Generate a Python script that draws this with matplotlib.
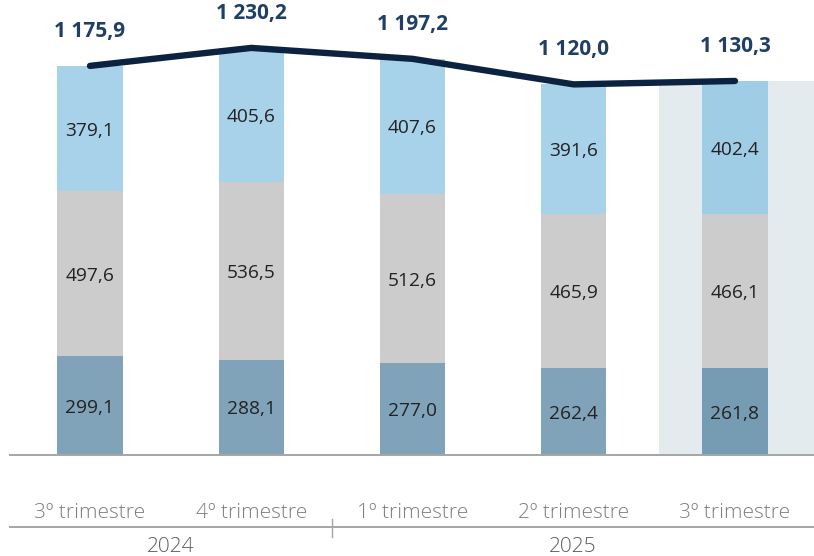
import matplotlib

matplotlib.use("Agg")
import matplotlib.pyplot as plt
import numpy as np

# data
quarters = ["3º trimestre", "4º trimestre", "1º trimestre", "2º trimestre", "3º trimestre"]
years = ["2024", "2025"]
bottom_vals = [299.1, 288.1, 277.0, 262.4, 261.8]
middle_vals = [497.6, 536.5, 512.6, 465.9, 466.1]
top_vals = [379.1, 405.6, 407.6, 391.6, 402.4]
totals = [1175.9, 1230.2, 1197.2, 1120.0, 1130.3]

plt.rcParams["font.family"] = ["Open Sans", "DejaVu Sans"]

C_BOTTOM = "#80a3ba"
C_BOTTOM_HL = "#769cb3"
C_MIDDLE = "#cccccc"
C_TOP = "#a8d2ea"
C_TOP_HL = "#a0cde6"
C_LINE = "#0b2340"
C_TOTAL = "#1f3f66"
C_AXIS = "#a6a6a6"
C_TICK = "#7e7e7e"

fig = plt.figure(figsize=(8.14, 5.56), dpi=100)
ax = fig.add_axes([10 / 814, 101 / 556, 804 / 814, 455 / 556])

x = np.arange(len(quarters))
width = 0.405
hl = len(quarters) - 1

# highlight band behind the latest quarter
ax.axvspan(3.53, 4.6, ymin=0, ymax=totals[hl] / 1375, color="#e3ebef", zorder=0, lw=0)

bottom_colors = [C_BOTTOM_HL if i == hl else C_BOTTOM for i in x]
top_colors = [C_TOP_HL if i == hl else C_TOP for i in x]
ax.bar(x, bottom_vals, width, color=bottom_colors, zorder=2)
ax.bar(x, middle_vals, width, bottom=bottom_vals, color=C_MIDDLE, zorder=2)
base_top = np.add(bottom_vals, middle_vals)
ax.bar(x, top_vals, width, bottom=base_top, color=top_colors, zorder=2)


def fmt(v):
    return f"{v:,.1f}".replace(",", " ").replace(".", ",")


for i in x:
    for val, mid in [(bottom_vals[i], bottom_vals[i] / 2),
                     (middle_vals[i], bottom_vals[i] + middle_vals[i] / 2),
                     (top_vals[i], base_top[i] + top_vals[i] / 2)]:
        ax.text(i, mid, fmt(val), ha="center", va="center_baseline", fontsize=13.8,
                color="#222222", zorder=3)

ax.plot(x, totals, color=C_LINE, lw=4.6, solid_capstyle="round", solid_joinstyle="round", zorder=4)
for i in x:
    ax.annotate(fmt(totals[i]), (i, totals[i]), xytext=(0, 25), textcoords="offset points",
                ha="center", va="center", fontsize=15, fontweight="bold", color=C_TOTAL, zorder=5)

ax.set_xlim(-0.496, 4.49)
ax.set_ylim(0, 1375)
ax.set_xticks([])
ax.set_yticks([])
for side in ["left", "right", "top"]:
    ax.spines[side].set_visible(False)
ax.spines["bottom"].set_color(C_AXIS)
ax.spines["bottom"].set_linewidth(1.4)

# category axis: quarters, separator line, years
tr = ax.get_xaxis_transform()
for i, q in enumerate(quarters):
    ax.text(i, -0.127, q, transform=tr, ha="center", va="center", fontsize=15,
            fontweight="light", color=C_TICK, clip_on=False)
ax.plot([-0.496, 4.49], [-0.158, -0.158], transform=tr, color=C_AXIS, lw=1.4, clip_on=False)
ax.plot([1.5, 1.5], [-0.141, -0.180], transform=tr, color=C_AXIS, lw=1.0, clip_on=False)
edges = [-0.496, 1.5, 4.49]
for k, yr in enumerate(years):
    ax.text((edges[k] + edges[k + 1]) / 2, -0.202, yr, transform=tr, ha="center", va="center",
            fontsize=15, fontweight="light", color="#5e5e5e", clip_on=False)

fig.savefig("out.png", dpi=100)
